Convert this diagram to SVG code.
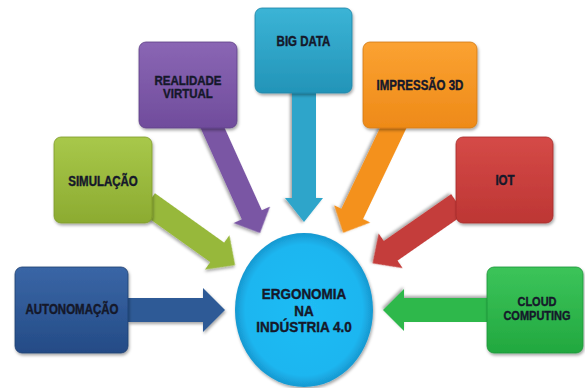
<svg xmlns="http://www.w3.org/2000/svg" width="585" height="388" viewBox="0 0 585 388">
  <defs>
    <filter id="sh" x="-20%" y="-20%" width="140%" height="140%">
      <feDropShadow dx="1" dy="2" stdDeviation="1.5" flood-color="#000" flood-opacity="0.35"/>
    </filter>
    <linearGradient id="gBlue" x1="0" y1="0" x2="0" y2="1"><stop offset="0" stop-color="#3a66a6"/><stop offset="1" stop-color="#244b86"/></linearGradient>
    <linearGradient id="gLime" x1="0" y1="0" x2="0" y2="1"><stop offset="0" stop-color="#a8c84a"/><stop offset="1" stop-color="#8cab31"/></linearGradient>
    <linearGradient id="gPurple" x1="0" y1="0" x2="0" y2="1"><stop offset="0" stop-color="#8a66b4"/><stop offset="1" stop-color="#704c9c"/></linearGradient>
    <linearGradient id="gTeal" x1="0" y1="0" x2="0" y2="1"><stop offset="0" stop-color="#3bb4d6"/><stop offset="1" stop-color="#2394b8"/></linearGradient>
    <linearGradient id="gOrange" x1="0" y1="0" x2="0" y2="1"><stop offset="0" stop-color="#fba232"/><stop offset="1" stop-color="#ee8a18"/></linearGradient>
    <linearGradient id="gRed" x1="0" y1="0" x2="0" y2="1"><stop offset="0" stop-color="#d54a47"/><stop offset="1" stop-color="#bd3634"/></linearGradient>
    <linearGradient id="gGreen" x1="0" y1="0" x2="0" y2="1"><stop offset="0" stop-color="#3cc45a"/><stop offset="1" stop-color="#22a83f"/></linearGradient>
    <radialGradient id="gCircle" cx="0.5" cy="0.5" r="0.5">
      <stop offset="0" stop-color="#20bcf4"/>
      <stop offset="0.85" stop-color="#1cb6f0"/>
      <stop offset="1" stop-color="#1898d0"/>
    </radialGradient>
    <style>
      .box { stroke-width: 0.8; filter: url(#sh); }
      .arr { filter: url(#sh); }
      .lbl { font-family: "Liberation Sans", Arial, sans-serif; font-weight: 700; font-size: 11.5px; fill: #15182a; stroke: #15182a; stroke-width: 0.35; text-anchor: middle; }
      .big { font-size: 13.5px; }
      .sm { font-size: 11px; }
    </style>
  </defs>

  <g id="connectors">
    <polygon class="arr" fill="#2f5a96" transform="translate(128,310) rotate(0)" points="0,-12 75,-12 75,-22 97,0 75,22 75,12 0,12"/>
    <polygon class="arr" fill="#97b83a" transform="translate(148,203) rotate(35.5)" points="0,-12 85,-12 85,-21 107,0 85,21 85,12 0,12"/>
    <polygon class="arr" fill="#7a56a4" transform="translate(209,120) rotate(65.7)" points="0,-11 104,-11 104,-20 124,0 104,20 104,11 0,11"/>
    <polygon class="arr" fill="#2ea5ca" transform="translate(304,90) rotate(90)" points="0,-12 108,-12 108,-19 132,0 108,19 108,12 0,12"/>
    <polygon class="arr" fill="#f4911e" transform="translate(397,120) rotate(115.5)" points="0,-12 104,-12 104,-20 125,0 104,20 104,12 0,12"/>
    <polygon class="arr" fill="#c43c3a" transform="translate(458,204) rotate(145.2)" points="0,-12 82,-12 82,-21 104,0 82,21 82,12 0,12"/>
    <polygon class="arr" fill="#2db84c" transform="translate(490,310) rotate(180)" points="0,-12 86,-12 86,-21 107,0 86,21 86,12 0,12"/>
  </g>

  <g id="center">
    <ellipse cx="304" cy="310" rx="69" ry="77" fill="url(#gCircle)" filter="url(#sh)"/>
    <g transform="translate(304,299) scale(1,1.15)">
      <text class="lbl big" x="0" y="0">ERGONOMIA</text>
      <text class="lbl big" x="0" y="14.5">NA</text>
      <text class="lbl big" x="0" y="29">INDÚSTRIA 4.0</text>
    </g>
  </g>

  <g id="autonomacao">
    <rect class="box" x="15" y="267" width="113" height="86" rx="7" fill="url(#gBlue)" stroke="#1f3f70"/>
    <g transform="translate(72,314) scale(1,1.2)"><text class="lbl" x="0" y="0">AUTONOMAÇÃO</text></g>
  </g>

  <g id="simulacao">
    <rect class="box" x="54" y="137" width="98" height="86" rx="7" fill="url(#gLime)" stroke="#7f9b2c"/>
    <g transform="translate(103,186) scale(1,1.2)"><text class="lbl" x="0" y="0">SIMULAÇÃO</text></g>
  </g>

  <g id="realidade-virtual">
    <rect class="box" x="139" y="42" width="98" height="86" rx="7" fill="url(#gPurple)" stroke="#5e3f86"/>
    <g transform="translate(188,85) scale(1,1.1)">
      <text class="lbl" x="0" y="0">REALIDADE</text>
      <text class="lbl" x="0" y="12">VIRTUAL</text>
    </g>
  </g>

  <g id="big-data">
    <rect class="box" x="255" y="8" width="97" height="85" rx="7" fill="url(#gTeal)" stroke="#1c84a6"/>
    <g transform="translate(303.5,46) scale(1,1.2)"><text class="lbl" x="0" y="0">BIG DATA</text></g>
  </g>

  <g id="impressao-3d">
    <rect class="box" x="363" y="42" width="114" height="86" rx="7" fill="url(#gOrange)" stroke="#d27a12"/>
    <g transform="translate(420,90) scale(1,1.2)"><text class="lbl" x="0" y="0">IMPRESSÃO 3D</text></g>
  </g>

  <g id="iot">
    <rect class="box" x="456" y="137" width="97" height="86" rx="7" fill="url(#gRed)" stroke="#a52c2a"/>
    <g transform="translate(505,185) scale(1,1.2)"><text class="lbl" x="0" y="0">IOT</text></g>
  </g>

  <g id="cloud-computing">
    <rect class="box" x="487" y="267" width="96" height="86" rx="7" fill="url(#gGreen)" stroke="#1d9438"/>
    <g transform="translate(537,306) scale(1,1.1)">
      <text class="lbl sm" x="0" y="0">CLOUD</text>
      <text class="lbl sm" x="0" y="13">COMPUTING</text>
    </g>
  </g>
</svg>
